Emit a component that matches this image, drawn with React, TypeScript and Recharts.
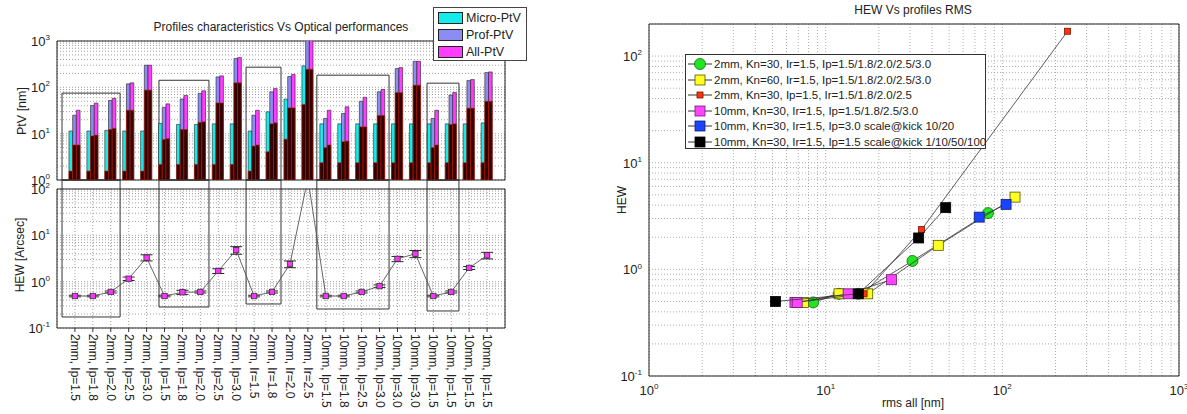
import React from 'react';
import {
  ComposedChart,
  Bar,
  Line,
  ErrorBar,
  XAxis,
  YAxis,
  CartesianGrid,
  ReferenceArea,
  ScatterChart,
  Scatter,
} from 'recharts';

const FONT = '"Liberation Sans", Arial, Helvetica, sans-serif';

// ---- left panel: profiles characteristics ----
const CATEGORIES = [
  '2mm, Ip=1.5', '2mm, Ip=1.8', '2mm, Ip=2.0', '2mm, Ip=2.5', '2mm, Ip=3.0',
  '2mm, Ip=1.5', '2mm, Ip=1.8', '2mm, Ip=2.0', '2mm, Ip=2.5', '2mm, Ip=3.0',
  '2mm, Ir=1.5', '2mm, Ir=1.8', '2mm, Ir=2.0', '2mm, Ir=2.5',
  '10mm, Ip=1.5', '10mm, Ip=1.8', '10mm, Ip=2.5', '10mm, Ip=3.0', '10mm, Ip=3.0',
  '10mm, Ip=3.0', '10mm, Ip=1.5', '10mm, Ip=1.5', '10mm, Ip=1.5', '10mm, Ip=1.5',
];

const MICRO_PTV = [11.4, 11.4, 11.8, 11.4, 11.4, 16.6, 15.8, 15.8, 16.3, 16.3, 11.4, 29.6, 55.6, 290, 16.3, 16.3, 16.3, 16.3, 16.3, 16.3, 16.3, 16.3, 16.3, 17.1];
const MICRO_RMS = [1.56, 1.56, 1.56, 1.56, 1.56, 2.17, 2.17, 2.17, 2.17, 2.17, 1.56, 4.07, 7.6, 42.7, 2.36, 2.36, 2.36, 2.36, 2.36, 2.36, 2.36, 2.36, 2.36, 2.36];
const PROF_PTV = [25, 40.6, 52, 119, 300, 37, 56, 74, 168, 418, 25, 80, 171, 1100, 21.3, 27.3, 50, 80, 254, 365, 21.3, 68, 140, 208];
const PROF_RMS = [5.7, 8.9, 12.3, 32, 87, 7.5, 12.3, 17.5, 46, 125, 5.4, 16.3, 36, 246, 5.0, 6.7, 14, 24.7, 77, 111, 5.0, 15.8, 35.5, 50];
const ALL_PTV = [32, 45.5, 58, 125, 300, 44, 67, 84, 177, 439, 32, 94, 189, 1200, 32, 38, 61, 90, 267, 365, 32, 77, 147, 215];
const ALL_RMS = [5.7, 9.3, 13, 32, 87, 7.8, 12.3, 18, 46, 125, 5.7, 17.1, 36, 246, 5.7, 6.9, 14, 24.7, 77, 111, 5.7, 16.3, 35.5, 50];

const HEW = [0.49, 0.49, 0.6, 1.16, 3.3, 0.49, 0.59, 0.6, 1.7, 4.8, 0.49, 0.6, 2.4, 170, 0.49, 0.49, 0.6, 0.8, 3.1, 4.0, 0.49, 0.6, 1.98, 3.7];
const HEW_ERR = [0.02, 0.02, 0.03, 0.1, 0.5, 0.02, 0.06, 0.03, 0.2, 0.9, 0.02, 0.03, 0.4, 0, 0.02, 0.02, 0.03, 0.05, 0.4, 0.7, 0.02, 0.03, 0.15, 0.6];

// group boxes: category span, PtV top, HEW bottom
const BOX_FROM = [0.28, 5.69, 10.55, 14.5, 20.65];
const BOX_TO = [3.52, 8.48, 12.5, 18.53, 22.43];
const BOX_PTV_TOP = [75, 142, 272, 183, 123];
const BOX_HEW_BOTTOM = [0.173, 0.284, 0.33, 0.257, 0.233];
const BOX_GAP_TOP = 156; // carries the boxes across the gap between the two plots

const BAR_LEGEND = ['Micro-PtV', 'Prof-PtV', 'All-PtV'];
const BAR_COLORS = ['#14ecec', '#8c8cf2', '#ff3cff'];
const DARK_FILL = '#2e0000';
const DARK_EDGE = '#c81e00';

// ---- right panel: HEW vs rms ----
const SERIES_NAMES = [
  '2mm, Kn=30, Ir=1.5, Ip=1.5/1.8/2.0/2.5/3.0',
  '2mm, Kn=60, Ir=1.5, Ip=1.5/1.8/2.0/2.5/3.0',
  '2mm, Kn=30, Ip=1.5, Ir=1.5/1.8/2.0/2.5',
  '10mm, Kn=30, Ir=1.5, Ip=1.5/1.8/2.5/3.0',
  '10mm, Kn=30, Ir=1.5, Ip=3.0 scale@kick 10/20',
  '10mm, Kn=30, Ir=1.5, Ip=1.5 scale@kick 1/10/50/100',
];
const RMS_KN30 = [8.5, 11.9, 15.3, 31, 83];
const HEW_KN30 = [0.49, 0.59, 0.59, 1.2, 3.37];
const RMS_KN60 = [7.5, 11.9, 17.3, 43.4, 118];
const HEW_KN60 = [0.49, 0.59, 0.59, 1.68, 4.76];
const RMS_IR = [6.7, 16.5, 34.9, 234];
const HEW_IR = [0.49, 0.59, 2.36, 171];
const RMS_10MM = [6.7, 6.9, 13.4, 23.6];
const HEW_10MM = [0.49, 0.49, 0.59, 0.8];
const RMS_KICK30 = [74, 105];
const HEW_KICK30 = [3.09, 4.07];
const RMS_KICK15 = [5.2, 15.3, 33.6, 47.8];
const HEW_KICK15 = [0.5, 0.59, 1.97, 3.79];

const MARKERS = [
  { shape: 'circle', size: 11, fill: '#22e622', stroke: '#0b6a0b' },
  { shape: 'square', size: 10, fill: '#ffff22', stroke: '#555500' },
  { shape: 'square', size: 6, fill: '#ff3210', stroke: '#7a1000' },
  { shape: 'square', size: 10, fill: '#ff44ff', stroke: '#6a206a' },
  { shape: 'square', size: 10, fill: '#1a44ff', stroke: '#102070' },
  { shape: 'square', size: 10, fill: '#000000', stroke: '#000000' },
];

const zip = (xs: number[], ys: number[]) => xs.map((x, i) => ({ x, y: ys[i] }));
const RMS_SERIES = [
  zip(RMS_KN30, HEW_KN30),
  zip(RMS_KN60, HEW_KN60),
  zip(RMS_IR, HEW_IR),
  zip(RMS_10MM, HEW_10MM),
  zip(RMS_KICK30, HEW_KICK30),
  zip(RMS_KICK15, HEW_KICK15),
];

const rows = CATEGORIES.map((label, i) => ({
  pos: i + 1,
  label,
  micro: MICRO_PTV[i],
  microRms: MICRO_RMS[i],
  prof: PROF_PTV[i],
  profRms: PROF_RMS[i],
  all: ALL_PTV[i],
  allRms: ALL_RMS[i],
  hew: HEW[i],
  hewErr: HEW_ERR[i],
}));

// log ticks 1..9 per decade
const logTicks = (fromExp: number, toExp: number) => {
  const out: number[] = [];
  for (let e = fromExp; e < toExp; e++) {
    for (let m = 1; m < 10; m++) out.push(Number((m * Math.pow(10, e)).toPrecision(6)));
  }
  out.push(Math.pow(10, toExp));
  return out;
};

const GRID = { stroke: '#8a8a8a', strokeDasharray: '1 2', strokeWidth: 0.8 };

const PowTick = (props: any) => {
  const { x, y, payload, anchor = 'end', dy = 5, size = 13 } = props;
  const lg = Math.log10(payload.value);
  const e = Math.round(lg);
  if (Math.abs(lg - e) > 1e-6) return null;
  return (
    <text x={x} y={y + dy} textAnchor={anchor} fontSize={size} fontFamily={FONT} fill="#222">
      10
      <tspan dy={-size * 0.45} fontSize={size * 0.62}>
        {e}
      </tspan>
    </text>
  );
};

const CatTick = (props: any) => {
  const { x, y, payload } = props;
  const label = CATEGORIES[payload.value - 1];
  if (!label) return null;
  return (
    <text
      transform={`translate(${x},${y}) rotate(90)`}
      dy={4}
      fontSize={12}
      fontFamily={FONT}
      fill="#222"
    >
      {label}
    </text>
  );
};

const drawMarker = (m: (typeof MARKERS)[number], cx: number, cy: number, key?: React.Key) =>
  m.shape === 'circle' ? (
    <circle key={key} cx={cx} cy={cy} r={m.size / 2} fill={m.fill} stroke={m.stroke} strokeWidth={0.8} />
  ) : (
    <rect
      key={key}
      x={cx - m.size / 2}
      y={cy - m.size / 2}
      width={m.size}
      height={m.size}
      fill={m.fill}
      stroke={m.stroke}
      strokeWidth={0.8}
    />
  );

const ProfilesPanel: React.FC = () => (
  <div style={{ position: 'absolute', left: 0, top: 0, width: 540, height: 414 }}>
    <div style={{ position: 'absolute', left: 0, top: 0 }}>
      <ComposedChart
        width={540}
        height={190}
        data={rows}
        margin={{ top: 41, right: 35, bottom: 9, left: 0 }}
        barSize={3.7}
        barGap={0}
      >
        <CartesianGrid {...GRID} />
        <XAxis
          type="number"
          dataKey="pos"
          domain={[0, 25]}
          ticks={[0, 5, 10, 15, 20, 25]}
          height={1}
          tick={false}
          tickLine={false}
          axisLine={false}
        />
        <XAxis xAxisId="d" type="number" dataKey="pos" domain={[0, 25]} hide />
        <YAxis
          type="number"
          scale="log"
          domain={[1, 1000]}
          allowDataOverflow
          ticks={logTicks(0, 3)}
          width={57}
          tickSize={4}
          tickMargin={3}
          tickLine={false}
          axisLine={false}
          interval={0}
          tick={(p: any) => <PowTick {...p} />}
        />
        <Bar dataKey="micro" fill={BAR_COLORS[0]} stroke="#222" strokeWidth={0.6} isAnimationActive={false} />
        <Bar dataKey="prof" fill={BAR_COLORS[1]} stroke="#222" strokeWidth={0.6} isAnimationActive={false} />
        <Bar dataKey="all" fill={BAR_COLORS[2]} stroke="#222" strokeWidth={0.6} isAnimationActive={false} />
        <Bar xAxisId="d" dataKey="microRms" fill={DARK_FILL} stroke={DARK_EDGE} strokeWidth={0.6} isAnimationActive={false} />
        <Bar xAxisId="d" dataKey="profRms" fill={DARK_FILL} stroke={DARK_EDGE} strokeWidth={0.6} isAnimationActive={false} />
        <Bar xAxisId="d" dataKey="allRms" fill={DARK_FILL} stroke={DARK_EDGE} strokeWidth={0.6} isAnimationActive={false} />
        {BOX_FROM.map((x1, i) => (
          <ReferenceArea
            key={`bt${i}`}
            x1={x1}
            x2={BOX_TO[i]}
            y1={1}
            y2={BOX_PTV_TOP[i]}
            fill="none"
            fillOpacity={0}
            stroke="#333"
            strokeWidth={1}
            ifOverflow="visible"
          />
        ))}
        <ReferenceArea x1={0} x2={25} y1={1} y2={1000} fill="none" fillOpacity={0} stroke="#222" strokeWidth={1} ifOverflow="visible" />
      </ComposedChart>
    </div>

    <div style={{ position: 'absolute', left: 0, top: 0 }}>
      <ComposedChart width={540} height={414} data={rows} margin={{ top: 189, right: 35, bottom: 4, left: 0 }}>
        <CartesianGrid {...GRID} />
        <XAxis
          type="number"
          dataKey="pos"
          domain={[0, 25]}
          ticks={rows.map((r) => r.pos)}
          interval={0}
          height={82}
          tickSize={4}
          tickMargin={2}
          axisLine={false}
          tickLine={{ stroke: '#333' }}
          tick={(p: any) => <CatTick {...p} />}
        />
        <YAxis
          type="number"
          scale="log"
          domain={[0.1, 100]}
          allowDataOverflow
          ticks={logTicks(-1, 2)}
          width={57}
          tickSize={4}
          tickMargin={3}
          tickLine={false}
          axisLine={false}
          interval={0}
          tick={(p: any) => <PowTick {...p} />}
        />
        {BOX_FROM.map((x1, i) => (
          <ReferenceArea
            key={`bb${i}`}
            x1={x1}
            x2={BOX_TO[i]}
            y1={BOX_HEW_BOTTOM[i]}
            y2={BOX_GAP_TOP}
            fill="none"
            fillOpacity={0}
            stroke="#333"
            strokeWidth={1}
            ifOverflow="visible"
          />
        ))}
        <ReferenceArea x1={0} x2={25} y1={0.1} y2={100} fill="none" fillOpacity={0} stroke="#222" strokeWidth={1} ifOverflow="visible" />
        <Line
          dataKey="hew"
          stroke="#555"
          strokeWidth={0.9}
          isAnimationActive={false}
          dot={(p: any) => (
            <rect key={`d${p.index}`} x={p.cx - 2.7} y={p.cy - 2.7} width={5.4} height={5.4} fill="#ff33ff" stroke="#333" strokeWidth={0.8} />
          )}
        >
          <ErrorBar dataKey="hewErr" width={6} stroke="#111" strokeWidth={0.9} direction="y" />
        </Line>
      </ComposedChart>
    </div>

    <div
      style={{
        position: 'absolute',
        left: 0,
        top: 20,
        width: 562,
        textAlign: 'center',
        fontSize: 12,
        whiteSpace: 'nowrap',
      }}
    >
      Profiles characteristics Vs Optical performances
    </div>
    <div
      style={{
        position: 'absolute',
        left: 22,
        top: 111,
        transform: 'translate(-50%, -50%) rotate(-90deg)',
        fontSize: 12.5,
        whiteSpace: 'nowrap',
      }}
    >
      PtV [nm]
    </div>
    <div
      style={{
        position: 'absolute',
        left: 20,
        top: 255,
        transform: 'translate(-50%, -50%) rotate(-90deg)',
        fontSize: 12,
        whiteSpace: 'nowrap',
      }}
    >
      HEW [Arcsec]
    </div>

    <div
      style={{
        position: 'absolute',
        left: 433,
        top: 7,
        width: 94,
        height: 54,
        boxSizing: 'border-box',
        border: '1px solid #444',
        background: '#fff',
        paddingTop: 1,
      }}
    >
      {BAR_LEGEND.map((name, i) => (
        <div key={name} style={{ display: 'flex', alignItems: 'center', height: 17.3 }}>
          <div
            style={{
              width: 25,
              height: 12,
              boxSizing: 'border-box',
              marginLeft: 4,
              marginRight: 3,
              background: BAR_COLORS[i],
              border: '1px solid #222',
            }}
          />
          <span style={{ fontSize: 12.5, whiteSpace: 'nowrap' }}>{name}</span>
        </div>
      ))}
    </div>
  </div>
);

const HewPanel: React.FC = () => (
  <div style={{ position: 'absolute', left: 590, top: 0, width: 597, height: 414 }}>
    <ScatterChart width={597} height={414} margin={{ top: 24, right: 8, bottom: 8, left: 0 }}>
      <CartesianGrid {...GRID} stroke="#9a9a9a" />
      <XAxis
        type="number"
        dataKey="x"
        scale="log"
        domain={[1, 1000]}
        allowDataOverflow
        ticks={logTicks(0, 3)}
        interval={0}
        height={30}
        tickSize={4}
        tickMargin={3}
        tickLine={false}
        axisLine={false}
        tick={(p: any) => <PowTick {...p} anchor="middle" dy={12} />}
      />
      <YAxis
        type="number"
        dataKey="y"
        scale="log"
        domain={[0.1, 200]}
        allowDataOverflow
        ticks={[...logTicks(-1, 2), 200]}
        interval={0}
        width={59}
        tickSize={4}
        tickMargin={3}
        tickLine={false}
        axisLine={false}
        tick={(p: any) => <PowTick {...p} />}
      />
      <ReferenceArea x1={1} x2={1000} y1={0.1} y2={200} fill="none" fillOpacity={0} stroke="#222" strokeWidth={1} ifOverflow="visible" />
      {RMS_SERIES.map((pts, i) => (
        <Scatter
          key={SERIES_NAMES[i]}
          name={SERIES_NAMES[i]}
          data={pts}
          line={{ stroke: '#333', strokeWidth: 0.8 }}
          lineType="joint"
          isAnimationActive={false}
          shape={(p: any) => drawMarker(MARKERS[i], p.cx, p.cy)}
        />
      ))}
    </ScatterChart>

    <div
      style={{
        position: 'absolute',
        left: 0,
        top: 3,
        width: 646,
        textAlign: 'center',
        fontSize: 12,
        whiteSpace: 'nowrap',
      }}
    >
      HEW Vs profiles RMS
    </div>
    <div
      style={{
        position: 'absolute',
        left: 0,
        top: 396,
        width: 646,
        textAlign: 'center',
        fontSize: 12,
        whiteSpace: 'nowrap',
      }}
    >
      rms all [nm]
    </div>
    <div
      style={{
        position: 'absolute',
        left: 32,
        top: 200,
        transform: 'translate(-50%, -50%) rotate(-90deg)',
        fontSize: 12,
        whiteSpace: 'nowrap',
      }}
    >
      HEW
    </div>

    <div
      style={{
        position: 'absolute',
        left: 95,
        top: 54,
        width: 301,
        height: 95,
        boxSizing: 'border-box',
        border: '1px solid #333',
        background: '#fff',
        paddingTop: 1.5,
      }}
    >
      {SERIES_NAMES.map((name, i) => (
        <div key={name} style={{ display: 'flex', alignItems: 'center', height: 15.5 }}>
          <svg width={28} height={14} style={{ flex: 'none' }}>
            <line x1={2} y1={7} x2={26} y2={7} stroke="#333" strokeWidth={1} />
            {drawMarker(MARKERS[i], 14, 7)}
          </svg>
          <span style={{ fontSize: 11.5, whiteSpace: 'nowrap', marginLeft: 0 }}>{name}</span>
        </div>
      ))}
    </div>
  </div>
);

export default function App() {
  return (
    <div
      style={{
        position: 'absolute',
        left: 0,
        top: 0,
        width: 1187,
        height: 414,
        background: '#fff',
        fontFamily: FONT,
        color: '#222',
        overflow: 'hidden',
      }}
    >
      <ProfilesPanel />
      <HewPanel />
    </div>
  );
}
